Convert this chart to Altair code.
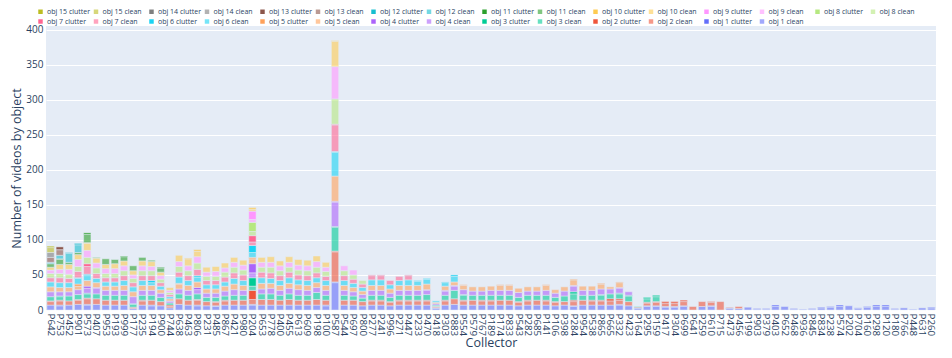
import altair as alt
import pandas as pd

collectors = ["P642","P753","P452","P901","P573","P407","P953","P193","P999","P177",
"P235","P194","P900","P744","P638","P463","P806","P231","P485","P867",
"P421","P980","P204","P653","P778","P400","P455","P613","P609","P198",
"P100","P587","P544","P697","P800","P277","P241","P996","P271","P447",
"P233","P470","P418","P303","P883","P554","P579","P767","P189","P174",
"P833","P543","P282","P685","P141","P106","P398","P284","P954","P538",
"P865","P665","P332","P423","P164","P295","P159","P417","P304","P699",
"P641","P259","P610","P715","P473","P456","P199","P903","P379","P403",
"P652","P468","P936","P845","P834","P238","P574","P202","P704","P160",
"P298","P120","P180","P766","P448","P631","P260"]

# values listed in collector order (lists cover the first collectors; dicts are sparse)
obj1_clean = [7,6,7,8,7,8,7,7,7,2, 7,6,6,3,8,7,6,6,5,7, 7,7,7,7,7,7,7,7,7,7,
              6,39,7,7,6,7,7,6,7,7, 7,7,2,7,8,7,7,7,7,7, 7,6,7,7,7,6,7,5,7,7,
              7,7,7,6,2,5,5,4,4,5, 0,5,5,0,2,2,4,1,1,5, 5,1,1,1,3,4,5,6,2,4,
              5,5,1,3,1,3,3]
obj1_clutter = [0,1,0,0,1,0,0,0,0,0, 0,1,0,0,0,0,1,0,1,0, 0,0,1,0,0,0,0,0,0,0,
                1,1,0,0,0,0,0,0,0,0, 0,0,1,0,0,0,0,0,0,0, 0,0,0,0,0,0,0,1,0,0,
                0,0,1,0,1,1,1,1,1,1, 0,0,1,0,1,0,0,1,1,2, 0,1,0,1,1,1,2,0,1,1,
                2,2,1,0,0,0,1]
obj2_clean = [5,6,6,6,8,8,7,7,7,2, 6,7,6,2,8,7,7,6,5,6, 7,7,7,8,8,7,8,7,7,8,
              7,43,7,7,6,6,6,5,6,6, 6,6,1,6,8,6,7,6,6,7, 7,5,6,7,6,5,5,6,7,6,
              6,6,6,6,0,4,5,5,5,6, 5,7,5,12,1,3]
obj2_clutter = [1,1,0,1,1,0,0,0,0,0, 1,0,0,2,0,0,1,0,1,1, 0,0,13,0,0,0,0,0,0,0,
                0,1,0,0,0,1,1,1,1,1, 1,1,1,1,0,1,0,1,1,0, 0,1,1,0,1,1,0,2,0,1,
                1,3,2,0,1,1,1,2,2,2, 0,0,1]
obj3_clean = [6,5,7,7,6,7,7,7,7,4, 7,7,6,3,7,7,8,6,6,6, 7,7,6,8,8,7,8,7,7,10,
              7,34,7,6,5,7,7,6,7,7, 7,8,1,7,12,7,7,7,7,7, 7,6,7,7,7,6,8,9,7,7,
              7,7,7,8,1,5,7]
obj3_clutter = {"P753":1,"P573":1,"P177":1,"P204":12,"P587":1,"P418":1,"P554":1,
                "P284":3,"P865":1,"P332":1,"P423":1,"P295":2,"P159":2}
obj4_clean = [7,6,6,7,7,8,7,7,7,10, 7,7,6,2,7,7,6,6,6,7, 8,7,7,7,8,7,8,8,7,7,
              7,35,7,6,5,7,7,6,7,7, 7,6,2,6,6,7,6,6,7,7, 7,7,6,6,7,6,7,8,7,7,
              8,7,7,5]
obj4_clutter = {"P573":3,"P407":1,"P744":1,"P806":3,"P204":13,"P587":1,"P470":1,
                "P303":1,"P883":1,"P284":1,"P332":1}
obj5_clean = [7,6,6,5,8,7,6,6,7,7, 7,7,5,3,7,7,8,6,6,7, 8,7,7,8,7,7,7,7,7,7,
              7,36,7,6,5,7,7,6,7,7, 7,8,2,6,5,6,6,6,6,7, 7,6,6,6,7,5,6,8,6,6,
              7,3,7]
obj5_clutter = {"P901":3,"P638":1,"P204":2,"P554":1,"P174":1,"P833":1,"P141":1,
                "P284":1,"P865":1,"P332":1}
obj6_clean = [7,7,7,8,7,6,6,6,7,7, 7,4,5,3,9,7,7,6,6,6, 8,7,7,8,7,7,8,7,7,7,
              7,34,7,6,5,8,8,6,7,8, 6,7,2,5,8]
obj6_clutter = {"P901":1,"P573":2,"P194":3,"P806":2,"P204":10,"P587":1,"P233":1,
                "P470":1,"P303":1,"P883":2}
obj7_clean = [6,7,6,9,11,7,6,6,7,6, 7,7,5,3,7,7,9,6,6,7, 8,8,5,8,8,7,8,7,7,7,
              6,38,7,6,5,6,6,6,6,6]
obj7_clutter = {"P573":4,"P204":9,"P587":1,"P277":1,"P241":1,"P447":1}
obj8_clean = [6,6,6,7,9,8,6,6,7,6, 7,7,5,3,8,7,9,6,6,7, 8,7,6,7,8,7,7,7,7,8,
              7,36,7,6,5]
obj8_clutter = {"P204":13}
obj9_clean = [5,6,7,10,10,7,7,7,7,5, 7,6,5,3,7,7,9,6,7,6, 7,7,4,7,7,7,7,7,7,8,
              6,46,7,7]
obj9_clutter = {"P204":12}
obj10_clean = [4,7,7,7,10,7,6,7,7,6, 7,7,5,4,9,10,8,7,7,7, 7,7,3,7,8,7,8,8,8,8,
               7,36]
obj10_clutter = {"P573":1,"P463":1,"P806":2,"P204":2,"P587":1}
obj11_clean = {"P642":5,"P753":7,"P452":3,"P901":3,"P573":12,"P407":1,"P953":8,
               "P193":6,"P999":6,"P177":7,"P235":5,"P194":2,"P900":6}
obj11_clutter = {"P753":1,"P573":2,"P999":1,"P900":1}
obj12_clean = {"P642":2,"P753":5,"P452":13,"P901":11}
obj12_clutter = {"P452":1,"P901":2}
obj13_clean = {"P642":7,"P753":8}
obj13_clutter = {"P753":4}
obj14_clean = {"P642":7}
obj14_clutter = {}
obj15_clean = {"P642":7}
obj15_clutter = {"P642":2}

object_colors = ["#636EFA","#EF553B","#00CC96","#AB63FA","#FFA15A","#19D3F3","#FF6692",
                 "#B6E880","#FF97FF","#FECB52","#2CA02C","#17BECF","#8C564B","#7F7F7F","#BCBD22"]

series = [
    (1, obj1_clean, obj1_clutter), (2, obj2_clean, obj2_clutter), (3, obj3_clean, obj3_clutter),
    (4, obj4_clean, obj4_clutter), (5, obj5_clean, obj5_clutter), (6, obj6_clean, obj6_clutter),
    (7, obj7_clean, obj7_clutter), (8, obj8_clean, obj8_clutter), (9, obj9_clean, obj9_clutter),
    (10, obj10_clean, obj10_clutter), (11, obj11_clean, obj11_clutter), (12, obj12_clean, obj12_clutter),
    (13, obj13_clean, obj13_clutter), (14, obj14_clean, obj14_clutter), (15, obj15_clean, obj15_clutter),
]

def pairs(vals):
    if isinstance(vals, dict):
        return list(vals.items())
    return list(zip(collectors, vals))

rows = []
for k, clean, clutter in series:
    for kind, vals, off in (("clean", clean, 0), ("clutter", clutter, 1)):
        for c, v in pairs(vals):
            if v > 0:
                rows.append({"Collector": c, "series": f"obj {k} {kind}", "value": v,
                             "stackorder": (k - 1) * 2 + off})
df = pd.DataFrame(rows)

def rgba(h, a):
    r, g, b = int(h[1:3], 16), int(h[3:5], 16), int(h[5:7], 16)
    return f"rgba({r},{g},{b},{a})"

legend_domain, legend_range = [], []
for k in range(15, 0, -1):
    legend_domain += [f"obj {k} clutter", f"obj {k} clean"]
    legend_range += [rgba(object_colors[k - 1], 1.0), rgba(object_colors[k - 1], 0.6)]

FONT = "Open Sans"
TXT = "#2a3f5f"

chart = alt.Chart(df).mark_bar(stroke="#E5ECF6", strokeWidth=0.5).encode(
    x=alt.X("Collector:N", sort=collectors,
            scale=alt.Scale(paddingInner=0.2, paddingOuter=0.1),
            axis=alt.Axis(title="Collector", labelAngle=90, labelFontSize=9.8, labelColor=TXT,
                          labelPadding=3, ticks=False, domain=False, titleFontSize=12.5,
                          titleColor=TXT, titleFontWeight="normal", titlePadding=1,
                          labelOverlap=False)),
    y=alt.Y("value:Q", stack="zero",
            scale=alt.Scale(domain=[0, 405], nice=False),
            axis=alt.Axis(title="Number of videos by object", values=list(range(0, 401, 50)),
                          grid=True, gridColor="white", gridWidth=1, ticks=False, domain=False,
                          labelFontSize=10, labelColor=TXT, labelPadding=3, titleFontSize=12.5,
                          titleColor=TXT, titleFontWeight="normal", titlePadding=2)),
    color=alt.Color("series:N", scale=alt.Scale(domain=legend_domain, range=legend_range),
                    legend=alt.Legend(title=None, orient="none", legendX=-9, legendY=-18,
                                      direction="horizontal", columns=16,
                                      symbolType="square", symbolSize=20, symbolStrokeWidth=0,
                                      labelFontSize=7, labelColor=TXT, gridAlign="all",
                                      columnPadding=1.5, rowPadding=2, labelOffset=3,
                                      padding=0)),
    order=alt.Order("stackorder:Q", sort="ascending"),
).properties(
    width=890, height=284, padding={"left": 2, "top": 0, "right": 2, "bottom": 0}
).configure(font=FONT).configure_view(fill="#E5ECF6", stroke=None)

chart.save("out.html", embed_options={"renderer": "svg", "actions": False})
